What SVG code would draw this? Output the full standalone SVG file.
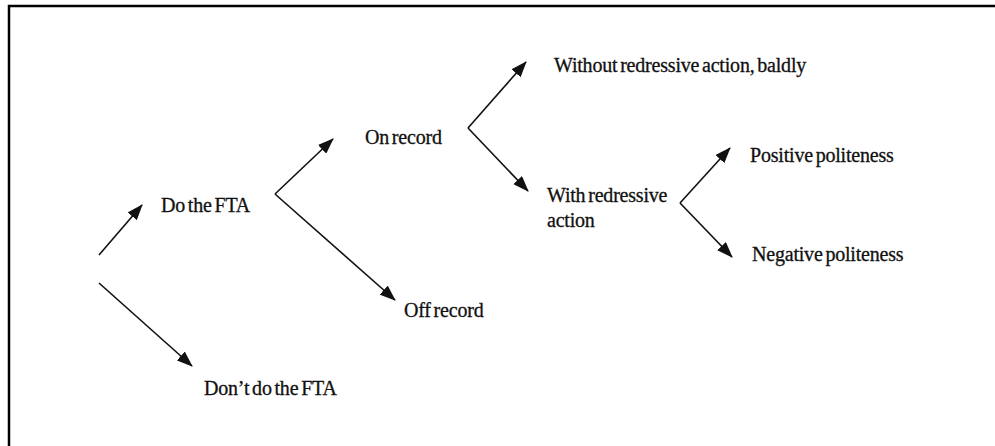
<svg xmlns="http://www.w3.org/2000/svg" width="995" height="446" viewBox="0 0 995 446">
<style>
.t{font-family:"Liberation Serif","Times New Roman",serif;font-size:20px;fill:#111;stroke:#111;stroke-width:0.3px;letter-spacing:-0.2px;word-spacing:-2px}
.c{fill:none;stroke:#111;stroke-width:1.6px;marker-end:url(#ah)}
</style>
<defs>
<marker id="ah" markerUnits="userSpaceOnUse" markerWidth="16" markerHeight="12" viewBox="0 0 16 12" refX="15" refY="6" orient="auto">
<path d="M0,0 L16,6 L0,12 Z" fill="#111"/>
</marker>
</defs>
<rect width="995" height="446" fill="#fff"/>
<path d="M9,446 V6 H995" fill="none" stroke="#000" stroke-width="2.5"/>
<g id="connectors">
<path class="c" d="M99,255 L142,205"/>
<path class="c" d="M99,283 L192,366"/>
<path class="c" d="M275,194 L333,139"/>
<path class="c" d="M275,194 L395,300"/>
<path class="c" d="M468,128 L526,62"/>
<path class="c" d="M468,128 L528,191"/>
<path class="c" d="M680,203 L730,148"/>
<path class="c" d="M680,203 L732,257"/>
</g>
<g id="do-fta"><text class="t" x="161" y="212" font-family="Liberation Serif, serif">Do the FTA</text></g>
<g id="dont-do-fta"><text class="t" x="204" y="395" font-family="Liberation Serif, serif">Don’t do the FTA</text></g>
<g id="on-record"><text class="t" x="365" y="144" font-family="Liberation Serif, serif">On record</text></g>
<g id="off-record"><text class="t" x="404" y="317" font-family="Liberation Serif, serif">Off record</text></g>
<g id="without-redressive"><text class="t" x="554" y="72" font-family="Liberation Serif, serif">Without redressive action, baldly</text></g>
<g id="with-redressive"><text class="t" x="547" y="202" font-family="Liberation Serif, serif">With redressive</text><text class="t" x="547" y="227" font-family="Liberation Serif, serif">action</text></g>
<g id="positive"><text class="t" x="750" y="162" font-family="Liberation Serif, serif">Positive politeness</text></g>
<g id="negative"><text class="t" x="752" y="261" font-family="Liberation Serif, serif">Negative politeness</text></g>
</svg>
